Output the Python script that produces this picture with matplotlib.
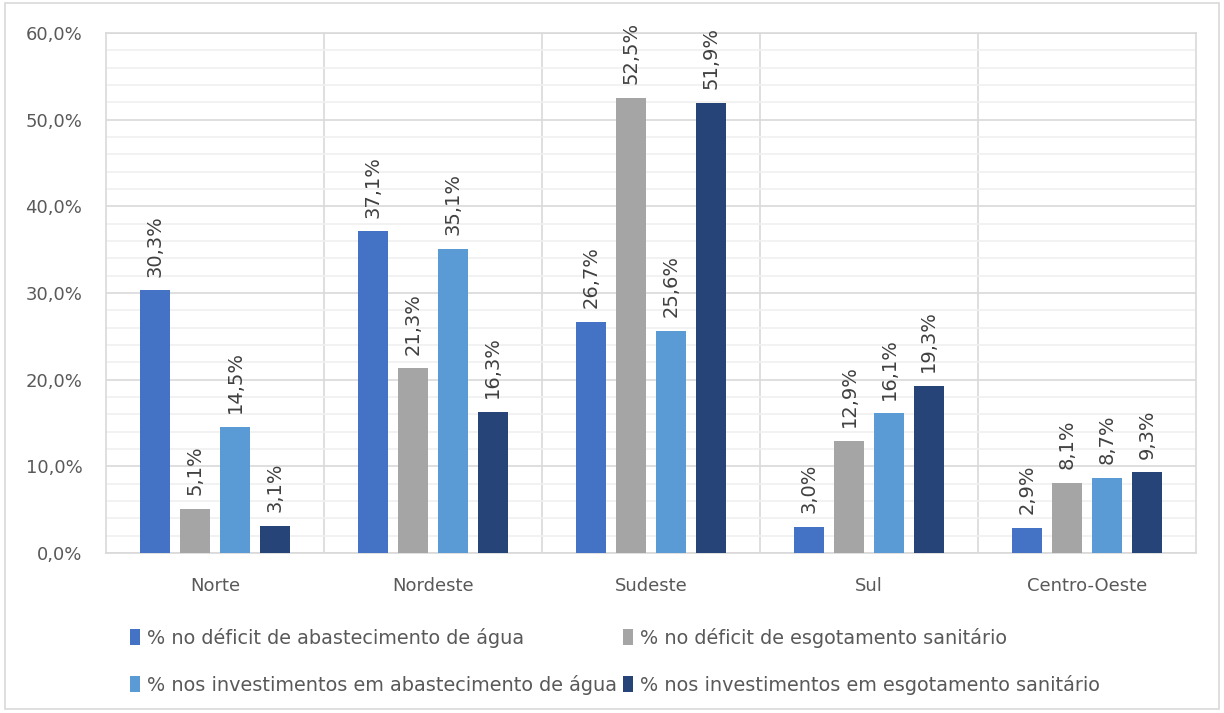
import matplotlib.pyplot as plt
import numpy as np
from matplotlib.patches import Rectangle

# dados por regiao
regioes = ['Norte', 'Nordeste', 'Sudeste', 'Sul', 'Centro-Oeste']
deficit_agua = [30.3, 37.1, 26.7, 3.0, 2.9]
deficit_esgoto = [5.1, 21.3, 52.5, 12.9, 8.1]
invest_agua = [14.5, 35.1, 25.6, 16.1, 8.7]
invest_esgoto = [3.1, 16.3, 51.9, 19.3, 9.3]

series = [deficit_agua, deficit_esgoto, invest_agua, invest_esgoto]
nomes = ['% no déficit de abastecimento de água',
         '% no déficit de esgotamento sanitário',
         '% nos investimentos em abastecimento de água',
         '% nos investimentos em esgotamento sanitário']
cores = ['#4472C4', '#A5A5A5', '#5B9BD5', '#264478']

plt.rcParams['font.family'] = ['DejaVu Sans']

fig = plt.figure(figsize=(12.24, 7.13), dpi=100)
ax = fig.add_axes([106/1224, 1-553/713, (1196-106)/1224, (553-33)/713])

# borda externa do grafico
fig.patches.append(Rectangle((5/1224, 4/713), 1214/1224, 706/713, transform=fig.transFigure,
                             fill=False, edgecolor='#D9D9D9', linewidth=1.2))

x = np.arange(len(regioes))
largura = 0.138
passo = 0.183
handles = []
for i, (vals, cor) in enumerate(zip(series, cores)):
    pos = x + (i - 1.5) * passo
    h = ax.bar(pos, vals, width=largura, color=cor, zorder=3, label=nomes[i])
    handles.append(h)
    for p, v in zip(pos, vals):
        ax.text(p, v + 1.6, f'{v:.1f}%'.replace('.', ','), rotation=90, ha='center', va='bottom',
                fontsize=14, color='#404040', zorder=4)

ax.set_xlim(-0.5, len(regioes) - 0.5)
ax.set_ylim(0, 60)
ax.set_yticks(np.arange(0, 61, 10))
ax.set_yticklabels([f'{v:.1f}%'.replace('.', ',') for v in np.arange(0, 61, 10)])
ax.set_yticks(np.arange(0, 61, 2), minor=True)
ax.set_xticks(x)
ax.set_xticklabels(regioes)
ax.tick_params(axis='both', which='both', length=0, labelsize=13, colors='#595959')
ax.tick_params(axis='x', pad=17)
ax.tick_params(axis='y', pad=17)

ax.grid(axis='y', which='minor', color='#F0F0F0', linewidth=1.2, zorder=0)
ax.grid(axis='y', which='major', color='#D9D9D9', linewidth=1.2, zorder=1)
for b in np.arange(0.5, len(regioes) - 0.5, 1):
    ax.axvline(b, color='#D9D9D9', linewidth=1.2, zorder=1)
for s in ax.spines.values():
    s.set_color('#D9D9D9')
    s.set_linewidth(1.2)

# ordem por linhas como no Excel
ordem = [0, 2, 1, 3]
leg = fig.legend([handles[k] for k in ordem], [nomes[k] for k in ordem],
                 loc='upper left', bbox_to_anchor=(120/1224, 1-618/713), ncol=2,
                 frameon=False, fontsize=13.9, handlelength=0.55, handleheight=0.85,
                 handletextpad=0.35, columnspacing=0.3, labelspacing=1.4, borderpad=0)
for t in leg.get_texts():
    t.set_color('#595959')

fig.savefig('out.png', dpi=100)
